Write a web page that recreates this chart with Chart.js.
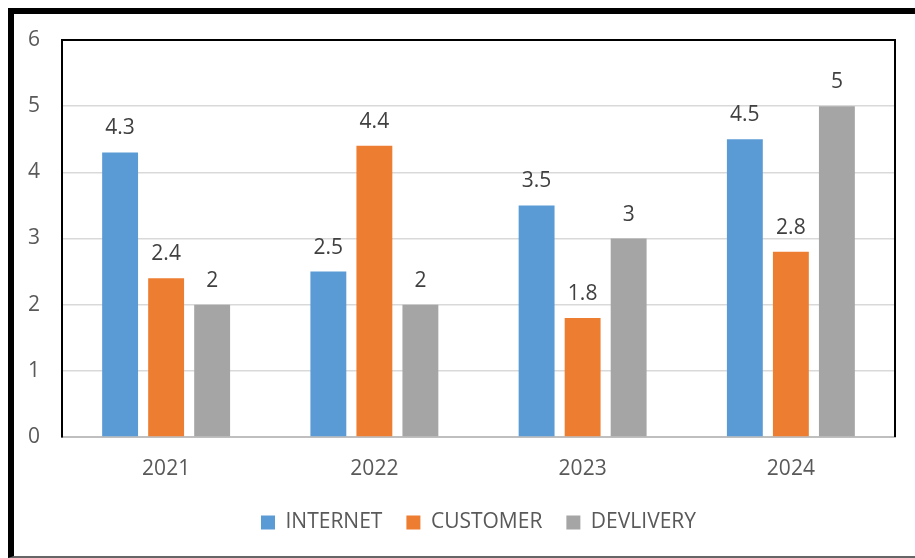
<!DOCTYPE html>
<html>
<head>
<meta charset="utf-8">
<script src="https://cdn.jsdelivr.net/npm/chart.js@4"></script>
<style>
  html, body { margin: 0; padding: 0; background: #fff; overflow: hidden; }
  #frame { position: absolute; left: 8px; top: 8px; width: 930px; height: 542px;
           border-top: 6px solid #000; border-left: 6px solid #000; border-bottom: 2px solid #666; }
  #wrap { position: absolute; left: 0; top: 0; width: 915px; height: 558px; }
</style>
</head>
<body>
<div id="frame"></div>
<div id="wrap"><canvas id="c" width="915" height="558"></canvas></div>
<script>
const categories = ['2021', '2022', '2023', '2024'];
const internet = [4.3, 2.5, 3.5, 4.5];
const customer = [2.4, 4.4, 1.8, 2.8];
const delivery = [2, 2, 3, 5];
const seriesNames = ['INTERNET', 'CUSTOMER', 'DEVLIVERY'];
const yTicks = [0, 1, 2, 3, 4, 5, 6];

const FONT = '"Open Sans", "Liberation Sans", sans-serif';

const labelPlugin = {
  id: 'valueLabels',
  afterDatasetsDraw(chart) {
    const ctx = chart.ctx;
    ctx.save();
    ctx.font = '21px ' + FONT;
    ctx.fillStyle = '#404040';
    ctx.textAlign = 'center';
    ctx.textBaseline = 'alphabetic';
    chart.data.datasets.forEach((ds, i) => {
      const meta = chart.getDatasetMeta(i);
      meta.data.forEach((el, j) => {
        ctx.fillText(String(ds.data[j]), el.x, el.y - 18);
      });
    });
    ctx.restore();
  }
};

const borderPlugin = {
  id: 'plotBorder',
  afterDraw(chart) {
    const a = chart.chartArea;
    const ctx = chart.ctx;
    ctx.save();
    ctx.strokeStyle = '#000';
    ctx.lineWidth = 2;
    ctx.beginPath();
    ctx.moveTo(a.left, a.bottom);
    ctx.lineTo(a.left, a.top);
    ctx.lineTo(a.right, a.top);
    ctx.lineTo(a.right, a.bottom);
    ctx.stroke();
    ctx.restore();
  }
};

new Chart(document.getElementById('c'), {
  type: 'bar',
  data: {
    labels: categories,
    datasets: [
      { label: seriesNames[0], data: internet, backgroundColor: '#5B9BD5' },
      { label: seriesNames[1], data: customer, backgroundColor: '#ED7D31' },
      { label: seriesNames[2], data: delivery, backgroundColor: '#A5A5A5' }
    ]
  },
  options: {
    responsive: false,
    animation: false,
    devicePixelRatio: 1,
    categoryPercentage: 0.663,
    barPercentage: 0.78,
    layout: { padding: { left: 0, right: 20, top: 40, bottom: 15 } },
    plugins: {
      tooltip: { enabled: false },
      legend: {
        position: 'bottom',
        fullSize: false,
        labels: {
          font: { family: FONT, size: 21 },
          color: '#595959',
          boxWidth: 14,
          boxHeight: 14,
          padding: 24
        }
      }
    },
    scales: {
      x: {
        grid: { display: false, drawTicks: false },
        border: { color: '#BFBFBF', width: 2 },
        ticks: { font: { family: FONT, size: 21 }, color: '#595959', padding: 19 },
        afterFit(s) { s.height = 51; }
      },
      y: {
        min: 0, max: 6,
        afterBuildTicks(s) { s.ticks = yTicks.map(v => ({ value: v })); },
        grid: { color: '#D9D9D9', lineWidth: 1.5, drawTicks: false },
        border: { color: '#000', width: 2 },
        ticks: { font: { family: FONT, size: 21 }, color: '#595959', padding: 22, stepSize: 1 },
        afterFit(s) { s.width = 62; }
      }
    }
  },
  plugins: [labelPlugin, borderPlugin]
});
</script>
</body>
</html>
